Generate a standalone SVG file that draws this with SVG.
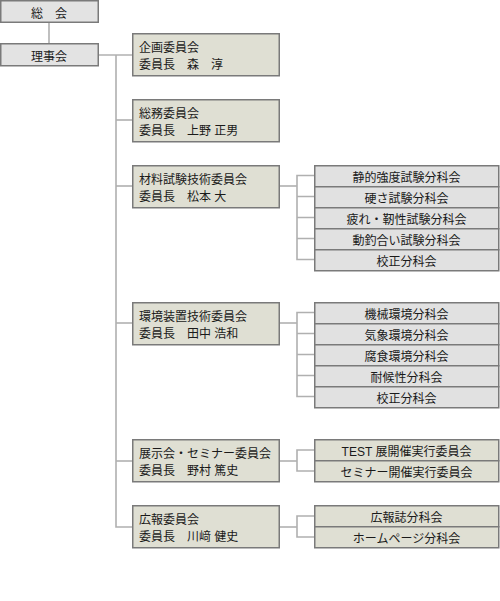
<svg xmlns="http://www.w3.org/2000/svg" width="500" height="601" viewBox="0 0 500 601">
<style>
text{font-family:"Liberation Sans","Noto Sans CJK JP",sans-serif;font-size:12px;fill:#1a1a1a}
.top{fill:#e3e3e3;stroke:#7a7a7a;stroke-width:1.5}
.main{fill:#dfdfd3;stroke:#7a7a7a;stroke-width:1.5}
.sub{fill:#e1e1e1;stroke:#7a7a7a;stroke-width:1.5}
.subb{fill:#dfdfd3;stroke:#7a7a7a;stroke-width:1.5}
.c{text-anchor:middle}
#connectors path{fill:none;stroke:#b0b0b0;stroke-width:1.6}
</style>
<rect width="500" height="601" fill="#ffffff"/>
<g id="connectors">
<path d="M49,22V44"/>
<path d="M98,55H132"/>
<path d="M116,55V527H132"/>
<path d="M116,120H132"/>
<path d="M116,186H132"/>
<path d="M116,323H132"/>
<path d="M116,461H132"/>
<path d="M279,186H297"/>
<path d="M314,175.5H297V259.5H314M297,196.5H314M297,217.5H314M297,238.5H314"/>
<path d="M279,323H297"/>
<path d="M314,312.5H297V396.5H314M297,333.5H314M297,354.5H314M297,375.5H314"/>
<path d="M279,461H297"/>
<path d="M314,450H297V471H314"/>
<path d="M279,527H297"/>
<path d="M314,516H297V537H314"/>
</g>
<g id="soukai"><rect class="top" x="0.75" y="0.75" width="97.5" height="21.5"/><text class="c" x="49" y="17.5">総　会</text></g>
<g id="rijikai"><rect class="top" x="0.75" y="43.75" width="97.5" height="22"/><text class="c" x="49" y="61">理事会</text></g>

<g id="kikaku"><rect class="main" x="132.75" y="33.75" width="146.5" height="42"/><text x="139" y="51.5">企画委員会</text><text x="139" y="69">委員長　森　淳</text></g>
<g id="soumu"><rect class="main" x="132.75" y="99.75" width="146.5" height="42"/><text x="139" y="117.5">総務委員会</text><text x="139" y="135">委員長　上野 正男</text></g>
<g id="zairyou"><rect class="main" x="132.75" y="165.75" width="146.5" height="42"/><text x="139" y="183.5">材料試験技術委員会</text><text x="139" y="201">委員長　松本 大</text></g>
<g id="kankyou"><rect class="main" x="132.75" y="302.75" width="146.5" height="42"/><text x="139" y="320.5">環境装置技術委員会</text><text x="139" y="338">委員長　田中 浩和</text></g>
<g id="tenji"><rect class="main" x="132.75" y="439.75" width="146.5" height="42"/><text x="139" y="457.5">展示会・セミナー委員会</text><text x="139" y="475">委員長　野村 篤史</text></g>
<g id="kouhou"><rect class="main" x="132.75" y="505.75" width="146.5" height="42"/><text x="139" y="523.5">広報委員会</text><text x="139" y="541">委員長　川﨑 健史</text></g>

<g id="z1"><rect class="sub" x="314.75" y="165.75" width="184" height="21"/><text class="c" x="406.5" y="181.5">静的強度試験分科会</text></g>
<g id="z2"><rect class="sub" x="314.75" y="186.75" width="184" height="21"/><text class="c" x="406.5" y="202.5">硬さ試験分科会</text></g>
<g id="z3"><rect class="sub" x="314.75" y="207.75" width="184" height="21"/><text class="c" x="406.5" y="223.5">疲れ・靭性試験分科会</text></g>
<g id="z4"><rect class="sub" x="314.75" y="228.75" width="184" height="21"/><text class="c" x="406.5" y="244.5">動釣合い試験分科会</text></g>
<g id="z5"><rect class="sub" x="314.75" y="249.75" width="184" height="21"/><text class="c" x="406.5" y="265.5">校正分科会</text></g>

<g id="k1"><rect class="sub" x="314.75" y="302.75" width="184" height="21"/><text class="c" x="406.5" y="318.5">機械環境分科会</text></g>
<g id="k2"><rect class="sub" x="314.75" y="323.75" width="184" height="21"/><text class="c" x="406.5" y="339.5">気象環境分科会</text></g>
<g id="k3"><rect class="sub" x="314.75" y="344.75" width="184" height="21"/><text class="c" x="406.5" y="360.5">腐食環境分科会</text></g>
<g id="k4"><rect class="sub" x="314.75" y="365.75" width="184" height="21"/><text class="c" x="406.5" y="381.5">耐候性分科会</text></g>
<g id="k5"><rect class="sub" x="314.75" y="386.75" width="184" height="21"/><text class="c" x="406.5" y="402.5">校正分科会</text></g>

<g id="t1"><rect class="subb" x="314.75" y="439.75" width="184" height="21"/><text class="c" x="406.5" y="455.5">TEST 展開催実行委員会</text></g>
<g id="t2"><rect class="subb" x="314.75" y="460.75" width="184" height="21"/><text class="c" x="406.5" y="476.5">セミナー開催実行委員会</text></g>

<g id="h1"><rect class="subb" x="314.75" y="505.75" width="184" height="21"/><text class="c" x="406.5" y="521.5">広報誌分科会</text></g>
<g id="h2"><rect class="subb" x="314.75" y="526.75" width="184" height="21"/><text class="c" x="406.5" y="542.5">ホームページ分科会</text></g>
</svg>
